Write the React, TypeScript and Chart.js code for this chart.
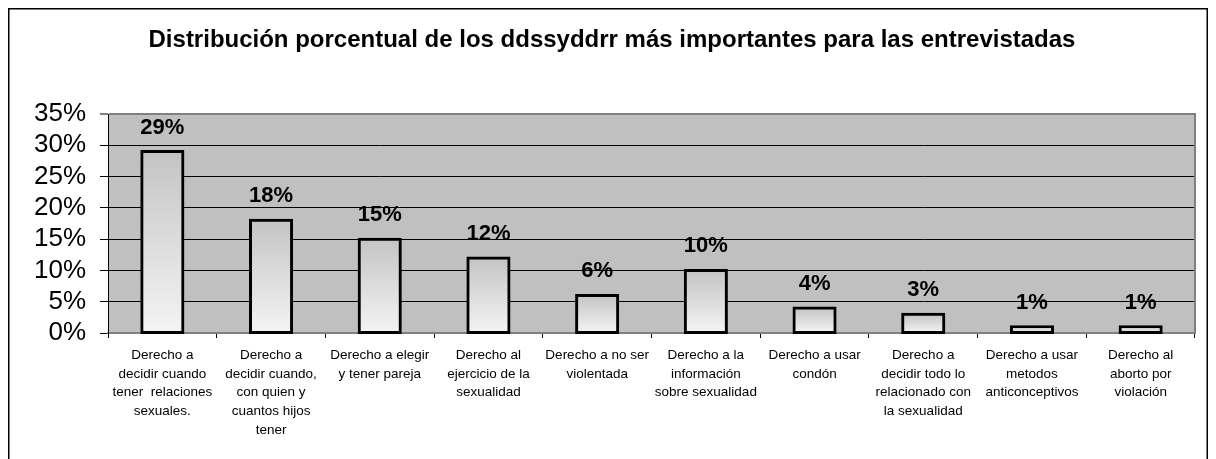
import React, { useEffect, useRef } from "react";
import { Chart, registerables } from "chart.js";

Chart.register(...registerables);

const TITLE = "Distribución porcentual de los ddssyddrr más importantes para las entrevistadas";

const categories: string[][] = [
  ["Derecho a", "decidir cuando", "tener  relaciones", "sexuales."],
  ["Derecho a", "decidir cuando,", "con quien y", "cuantos hijos", "tener"],
  ["Derecho a elegir", "y tener pareja"],
  ["Derecho al", "ejercicio de la", "sexualidad"],
  ["Derecho a no ser", "violentada"],
  ["Derecho a la", "información", "sobre sexualidad"],
  ["Derecho a usar", "condón"],
  ["Derecho a", "decidir todo lo", "relacionado con", "la sexualidad"],
  ["Derecho a usar", "metodos", "anticonceptivos"],
  ["Derecho al", "aborto por", "violación"],
];

const percentages: number[] = [29, 18, 15, 12, 6, 10, 4, 3, 1, 1];

const Y_MIN = 0;
const Y_MAX = 35;
const Y_STEP = 5;

const FONT = "'Liberation Sans', Arial, Helvetica, sans-serif";

const framePlugin = {
  id: "frame",
  beforeDraw(chart: any) {
    const { ctx, chartArea, width, height } = chart;
    ctx.save();
    ctx.fillStyle = "#ffffff";
    ctx.fillRect(0, 0, width, height);
    ctx.fillStyle = "#c0c0c0";
    ctx.fillRect(chartArea.left, chartArea.top, chartArea.right - chartArea.left, chartArea.bottom - chartArea.top);
    // outer border
    ctx.strokeStyle = "#000000";
    ctx.lineWidth = 1.5;
    ctx.strokeRect(0.75, 0.75, width - 1.5, height - 1.5);
    // title
    ctx.fillStyle = "#000000";
    ctx.font = `bold 24px ${FONT}`;
    ctx.textAlign = "center";
    ctx.textBaseline = "alphabetic";
    ctx.fillText(TITLE, 604, 38.5);
    ctx.restore();
  },
  afterDatasetsDraw(chart: any) {
    const { ctx, chartArea } = chart;
    ctx.save();
    // right border of plot
    ctx.strokeStyle = "#808080";
    ctx.lineWidth = 2;
    ctx.beginPath();
    ctx.moveTo(chartArea.right, chartArea.top - 1);
    ctx.lineTo(chartArea.right, chartArea.bottom);
    ctx.stroke();
    // data labels
    const meta = chart.getDatasetMeta(0);
    ctx.fillStyle = "#000000";
    ctx.font = `bold 22px ${FONT}`;
    ctx.textAlign = "center";
    ctx.textBaseline = "alphabetic";
    meta.data.forEach((el: any, i: number) => {
      const v = chart.data.datasets[0].data[i];
      ctx.fillText(`${v}%`, el.x, el.y - 18);
    });
    ctx.restore();
  },
};

export default function App() {
  const ref = useRef<HTMLCanvasElement | null>(null);

  useEffect(() => {
    document.documentElement.style.overflow = "hidden";
    document.body.style.overflow = "hidden";
    const canvas = ref.current;
    if (!canvas) return;
    const chart = new Chart(canvas, {
      type: "bar",
      data: {
        labels: categories,
        datasets: [
          {
            data: percentages,
            borderColor: "#000000",
            borderWidth: 3,
            borderSkipped: false,
            inflateAmount: 1.5,
            clip: false,
            categoryPercentage: 1,
            barPercentage: 0.378,
            backgroundColor: (c: any) => {
              const ch = c.chart;
              const ys = ch.scales && ch.scales.y;
              if (!ch.chartArea || !ys || typeof c.raw !== "number") return "#e0e0e0";
              const top = ys.getPixelForValue(c.raw);
              const base = ys.getPixelForValue(0);
              if (!isFinite(top) || !isFinite(base) || base - top < 1) return "#e0e0e0";
              const g = ch.ctx.createLinearGradient(0, top, 0, base);
              g.addColorStop(0, "#c4c4c4");
              g.addColorStop(1, "#f4f4f4");
              return g;
            },
          } as any,
        ],
      },
      options: {
        responsive: false,
        animation: false,
        layout: { padding: { top: 106, right: 13, bottom: 0, left: 0 } },
        plugins: {
          legend: { display: false },
          title: { display: false },
          tooltip: { enabled: false },
        },
        scales: {
          x: {
            offset: true,
            grid: {
              offset: true,
              display: true,
              drawOnChartArea: false,
              drawTicks: true,
              tickLength: 5,
              tickColor: "#000000",
              tickWidth: 1,
            },
            border: { display: true, color: "#808080", width: 2 },
            ticks: {
              color: "#000000",
              font: { family: FONT, size: 13.5, lineHeight: 1.385 },
              padding: 8,
              maxRotation: 0,
              minRotation: 0,
              autoSkip: false,
            },
            afterFit: (scale: any) => {
              scale.height = 135;
            },
          },
          y: {
            min: Y_MIN,
            max: Y_MAX,
            ticks: {
              stepSize: Y_STEP,
              autoSkip: false,
              color: "#000000",
              font: { family: FONT, size: 26 },
              padding: 14,
              callback: (v: any) => `${v}%`,
            },
            grid: {
              color: (c: any) => (c.tick && (c.tick.value === Y_MAX || c.tick.value === Y_MIN) ? "#808080" : "#000000"),
              lineWidth: (c: any) => (c.tick && c.tick.value === Y_MAX ? 2 : 1),
              drawTicks: true,
              tickLength: 8,
              tickColor: "#000000",
              tickWidth: 1,
            },
            border: { display: true, color: "#000000", width: 1 },
            afterFit: (scale: any) => {
              scale.width = 100;
            },
          },
        },
      },
      plugins: [framePlugin],
    });
    return () => chart.destroy();
  }, []);

  return (
    <div style={{ width: 1200, height: 460 }}>
      <canvas ref={ref} width={1200} height={460} style={{ display: "block" }} />
    </div>
  );
}
